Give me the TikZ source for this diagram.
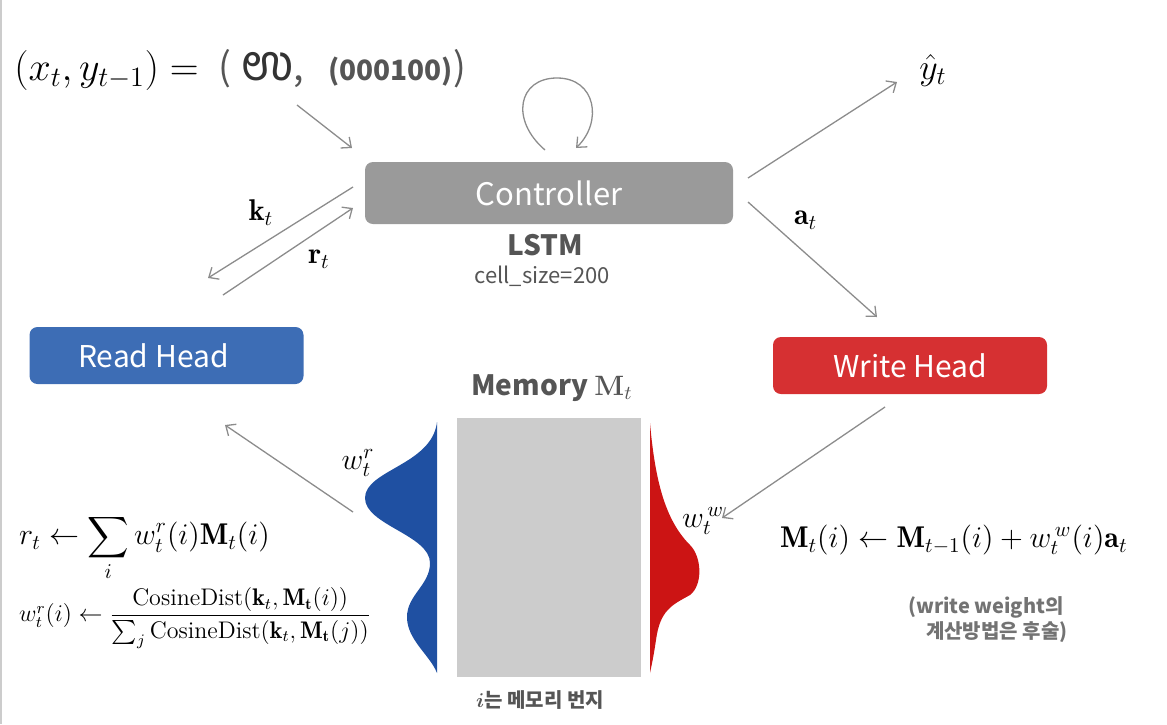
\RequirePackage{fix-cm}
\documentclass[tikz,border=0pt]{standalone}
\usepackage{amsmath}
\usepackage{fontspec}
\setsansfont{Noto Sans CJK KR}
\newfontfamily\kannadafont[Script=Kannada]{Hind Mysuru}
\usepackage{xcolor}
\usepackage{tikz}
\usetikzlibrary{arrows.meta}

\definecolor{ctrlgray}{HTML}{9A9A9A}
\definecolor{readblue}{HTML}{3D6DB5}
\definecolor{writered}{HTML}{D63032}
\definecolor{distblue}{HTML}{1F50A2}
\definecolor{distred}{HTML}{CC1414}
\definecolor{memgray}{HTML}{CCCCCC}
\definecolor{arrowgray}{HTML}{8C8C8C}
\definecolor{labelgray}{HTML}{555555}

\newcommand{\fsz}[1]{\fontsize{#1}{#1}\selectfont}

\tikzset{
  headbox/.style={rounded corners=4pt,minimum width=137pt,minimum height=28.5pt,
    text=white,font=\sffamily\fsz{15}},
  flow/.style={draw=arrowgray,line width=0.65pt,-{Straight Barb[length=4pt,width=7pt]}},
  lbl/.style={font=\fsz{15}},
}

\begin{document}
\begin{tikzpicture}[x=0.5pt,y=-0.5pt]
\useasboundingbox (0,0) rectangle (1167,724);
\draw[memgray,line width=1pt] (1,0) -- (1,724);

% boxes
\node[fill=ctrlgray,rounded corners=4pt,minimum width=184pt,minimum height=31pt,
  text=white,font=\sffamily\fsz{15.5}] (ctrl) at (549,193) {Controller};
\node[font=\sffamily\bfseries\fsz{14},text=labelgray] (lstm) at (545,245) {LSTM};
\node[font=\sffamily\fsz{11},text=labelgray] (cellsize) at (542,276) {cell\_size=200};
\node[headbox,fill=readblue] (read) at (166.5,355.5) {\hspace*{-13pt}Read Head};
\node[headbox,fill=writered] (write) at (910,365.5) {Write Head};
\node[fill=memgray,minimum width=92pt,minimum height=129.5pt] (mem) at (549,547.5) {};
\node[font=\sffamily\bfseries\fsz{14},text=labelgray] (memtitle) at (552,388) {Memory $\boldsymbol{\mathbf{M}}_t$};
\node[font=\sffamily\bfseries\fsz{10},text=labelgray] (addr) at (540,700) {$\boldsymbol{i}$는 메모리 번지};

% input and output
\node[anchor=west,inner sep=0pt] (input) at (14,70) {\fsz{20}$(x_t, y_{t-1}) =$\hspace{10pt}%
  {\color{labelgray}\sffamily\fsz{19}(\hspace{5pt}{\color{black!80}\kannadafont\fsz{25}ಉ},\hspace{12pt}%
  {\bfseries\fsz{14}(000100)}\fsz{19})}};
\node[font=\fsz{18}] (yhat) at (933,70) {$\hat{y}_t$};

% weightings
\fill[distblue] (437,422) .. controls (432,465) and (365,470) .. (365,498)
  .. controls (365,525) and (430,535) .. (430,563)
  .. controls (430,585) and (407,595) .. (407,617)
  .. controls (407,640) and (430,655) .. (437,673) -- cycle;
\fill[distred] (650,423) .. controls (655,480) and (665,520) .. (690,545)
  .. controls (702,557) and (703,585) .. (690,595)
  .. controls (672,605) and (660,610) .. (656,640)
  .. controls (653,660) and (651,668) .. (650,673) -- cycle;
\node[lbl] (wread) at (358,463) {$w_t^r$};
\node[lbl] (wwrite) at (703,521) {$w_t^{\,w}$};

% formulas
\node[lbl,anchor=west] (readeq) at (12,548) {$r_t \leftarrow \displaystyle\sum_i w_t^r(i)\mathbf{M}_t(i)$};
\node[font=\fsz{12},anchor=west] (cosine) at (12,618) {$w_t^r(i) \leftarrow
  \dfrac{\mathrm{CosineDist}(\mathbf{k}_t,\mathbf{M}_{\mathbf{t}}(i))}{\sum_j \mathrm{CosineDist}(\mathbf{k}_t,\mathbf{M}_{\mathbf{t}}(j))}$};
\node[lbl,anchor=west] (writeeq) at (773,540) {$\mathbf{M}_t(i) \leftarrow \mathbf{M}_{t-1}(i) + w_t^{\,w}(i)\mathbf{a}_t$};
\node[font=\sffamily\bfseries\fontsize{10}{12.5}\selectfont,text=black!55,anchor=north west,align=left]
  (note) at (901,590) {(write weight의\\\hspace{9pt}계산방법은 후술)};

% connector ends
\coordinate (in-a) at (297,105);  \coordinate (in-b) at (352,148);
\coordinate (loop-a) at (545,150); \coordinate (loop-b) at (576,148);
\coordinate (y-a) at (748,178);   \coordinate (y-b) at (897,82);
\coordinate (a-a) at (748,202);   \coordinate (a-b) at (877,317);
\coordinate (k-a) at (353,187);   \coordinate (k-b) at (208,278);
\coordinate (r-a) at (223,295);   \coordinate (r-b) at (353,208);
\coordinate (rd-a) at (353,512);  \coordinate (rd-b) at (225,425);
\coordinate (wr-a) at (885,407);  \coordinate (wr-b) at (722,518);

\draw[flow] (in-a) -- (in-b);
\draw[flow] (loop-a) .. controls (510,120) and (518,78) .. (557,78)
  .. controls (596,78) and (603,122) .. (loop-b);
\draw[flow] (y-a) -- (y-b);
\draw[flow] (a-a) -- (a-b) node[pos=0.3,above right,lbl] (alabel) {$\mathbf{a}_t$};
\draw[flow] (k-a) -- (k-b) node[midway,above left,lbl] (klabel) {$\mathbf{k}_t$};
\draw[flow] (r-a) -- (r-b) node[pos=0.6,below right,lbl] (rlabel) {$\mathbf{r}_t$};
\draw[flow] (rd-a) -- (rd-b);
\draw[flow] (wr-a) -- (wr-b);
\end{tikzpicture}
\end{document}
